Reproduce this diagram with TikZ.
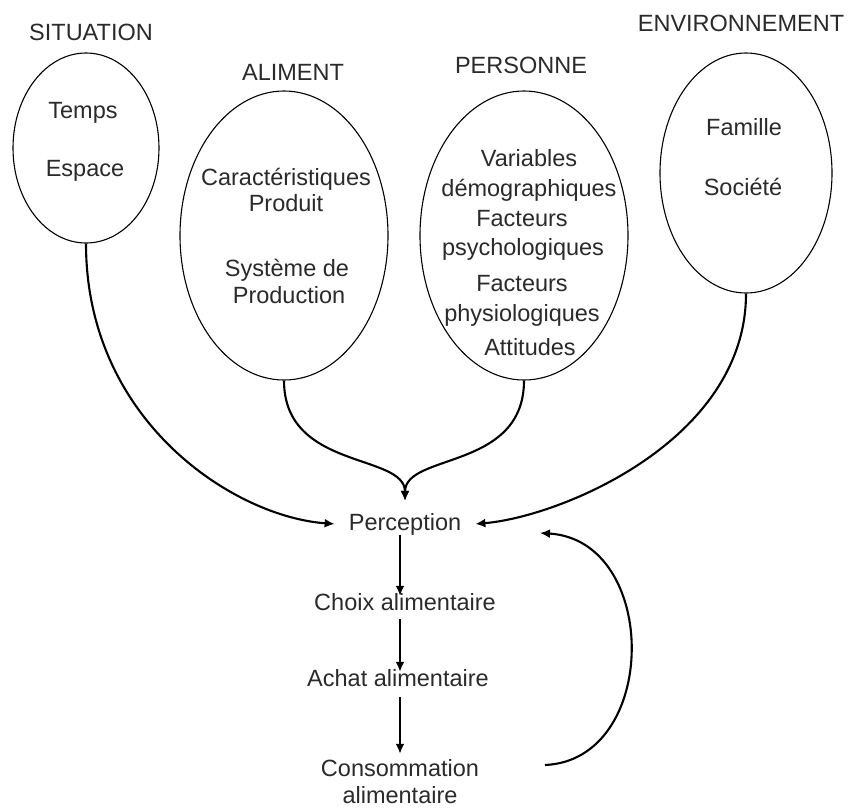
\documentclass[tikz,border=0pt]{standalone}
\usepackage{fontspec}
\setmainfont{Liberation Sans}
\usetikzlibrary{shapes.geometric,arrows.meta}
\definecolor{txt}{HTML}{2A2A2A}
\begin{document}
\begin{tikzpicture}[x=1pt,y=-1pt,
  oval/.style={draw, ellipse, line width=1.1pt, inner sep=0pt},
  lbl/.style={anchor=base, inner sep=0pt, text=txt, font=\fontsize{23.5}{28}\selectfont},
  flow/.style={anchor=base, inner ysep=0pt, inner xsep=0pt, text=txt, font=\fontsize{23.5}{28}\selectfont},
  conn/.style={line width=2.1pt, -{Latex[length=10pt,width=9pt]}},
]
\useasboundingbox (0,0) rectangle (851,807);

% ellipses
\node[oval, minimum width=146pt, minimum height=190pt] (sit) at (86,148) {};
\node[oval, minimum width=208pt, minimum height=289pt] (ali) at (284,235.5) {};
\node[oval, minimum width=208pt, minimum height=289pt] (per) at (524,235.5) {};
\node[oval, minimum width=172pt, minimum height=240pt] (env) at (746,173) {};

% titles
\node[lbl] (tsit) at (91,40) {SITUATION};
\node[lbl] (tali) at (293,80) {ALIMENT};
\node[lbl] (tper) at (521,73) {PERSONNE};
\node[lbl] (tenv) at (741,31) {ENVIRONNEMENT};

% contents
\node[lbl] (s1) at (83,118) {Temps};
\node[lbl] (s2) at (85,176) {Espace};
\node[lbl] (a1) at (286,185) {Caractéristiques};
\node[lbl] (a2) at (286,211) {Produit};
\node[lbl] (a3) at (287,276) {Système de};
\node[lbl] (a4) at (289,303) {Production};
\node[lbl] (p1) at (529,166) {Variables};
\node[lbl] (p2) at (529,196) {démographiques};
\node[lbl] (p3) at (522,226) {Facteurs};
\node[lbl] (p4) at (523,255) {psychologiques};
\node[lbl] (p5) at (522,291) {Facteurs};
\node[lbl] (p6) at (522,321) {physiologiques};
\node[lbl] (p7) at (530,355) {Attitudes};
\node[lbl] (e1) at (744,135) {Famille};
\node[lbl] (e2) at (743,195) {Société};

% flow
\node[flow, inner xsep=14pt] (perc) at (405,530) {Perception};
\node[flow] (choix) at (405,610) {Choix alimentaire};
\node[flow] (achat) at (398,686) {Achat alimentaire};
\node[flow] (cons) at (400,776) {Consommation};
\node[flow] (cons2) at (400,803) {alimentaire};
\coordinate (fbs) at (545,765);
\coordinate (fbe) at (540,533);

% connectors
\draw[conn] (sit.south) .. controls +(0,178) and +(-100,-7) .. (perc.west);
\draw[conn] (env.south) .. controls +(0,147) and +(85,-7) .. (perc.east);
\draw[conn, shorten >=12pt] (ali.south) .. controls +(0,90) and +(0,-60) .. (perc.north);
\draw[conn, shorten >=12pt] (per.south) .. controls +(0,90) and +(0,-60) .. (perc.north);
\draw[conn] ([xshift=-5pt]perc.south) -- ([xshift=-5pt,yshift=-3pt]choix.north);
\draw[conn, shorten <=9pt] ([xshift=-5pt]choix.south) -- ([xshift=2pt,yshift=-3pt]achat.north);
\draw[conn, shorten <=11pt, shorten >=5pt] ([xshift=2pt]achat.south) -- (cons.north);
\draw[conn] (fbs) .. controls (660,760) and (660,540) .. (fbe);
\end{tikzpicture}
\end{document}
